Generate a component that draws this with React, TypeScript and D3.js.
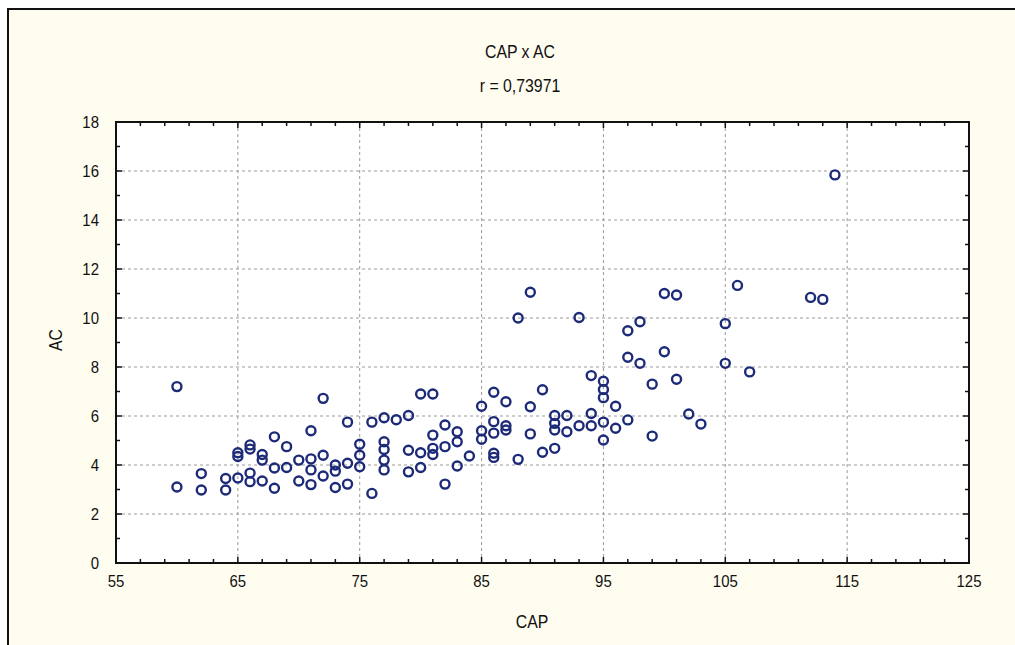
import React from "react";
import * as d3 from "d3";

const CAP: number[] = [
  60, 60, 62, 62, 64, 64, 65, 65, 65, 66, 66, 66, 66, 67, 67, 67, 68, 68, 68, 69, 69, 70, 70,
  71, 71, 71, 71, 72, 72, 72, 73, 73, 73, 74, 74, 74, 75, 75, 75, 76, 76,
  77, 77, 77, 77, 77, 78, 79, 79, 79, 80, 80, 80, 81, 81, 81, 81, 82, 82, 82,
  83, 83, 83, 84, 85, 85, 85, 86, 86, 86, 86, 86, 87, 87, 87, 88, 88, 89, 89, 89,
  90, 90, 91, 91, 91, 91, 92, 92, 93, 93, 94, 94, 94, 95, 95, 95, 95, 95, 96, 96,
  97, 97, 97, 98, 98, 99, 99, 100, 100, 101, 101, 102, 103, 105, 105, 106, 107, 112, 113, 114,
];
const AC: number[] = [
  7.2, 3.1, 3.65, 2.98, 3.45, 2.98, 4.5, 4.35, 3.47, 4.82, 4.65, 3.67, 3.32, 4.43, 4.2, 3.35, 5.15, 3.88, 3.05, 4.75, 3.9, 4.2, 3.35,
  5.4, 4.25, 3.8, 3.2, 6.72, 4.4, 3.55, 4.0, 3.75, 3.08, 5.75, 4.07, 3.22, 4.85, 4.4, 3.93, 5.75, 2.84,
  5.93, 4.95, 4.63, 4.2, 3.8, 5.85, 6.02, 4.6, 3.72, 6.9, 4.5, 3.9, 6.9, 5.22, 4.68, 4.43, 5.63, 4.75, 3.22,
  5.36, 4.95, 3.96, 4.37, 6.4, 5.4, 5.05, 6.97, 5.77, 5.3, 4.48, 4.31, 6.58, 5.6, 5.43, 10.0, 4.23, 11.05, 6.38, 5.27,
  7.07, 4.52, 6.02, 5.7, 5.43, 4.68, 6.02, 5.36, 10.02, 5.6, 7.65, 6.1, 5.6, 7.42, 7.08, 6.75, 5.75, 5.02, 6.4, 5.5,
  9.48, 8.4, 5.84, 9.85, 8.15, 7.3, 5.18, 11.0, 8.62, 10.94, 7.5, 6.08, 5.67, 9.77, 8.15, 11.33, 7.8, 10.84, 10.76, 15.84,
];
const xTicks: number[] = [55, 65, 75, 85, 95, 105, 115, 125];
const yTicks: number[] = [0, 2, 4, 6, 8, 10, 12, 14, 16, 18];
const title = "CAP x AC";
const subtitle = "r = 0,73971";
const xLabel = "CAP";
const yLabel = "AC";

const FONT = "'Liberation Sans', Arial, sans-serif";

function T(props: { x: number; y: number; size: number; anchor?: string; rotate?: number; children: React.ReactNode }) {
  const { x, y, size, anchor = "middle", rotate = 0, children } = props;
  return (
    <text
      transform={`translate(${x},${y}) rotate(${rotate}) scale(0.88,1)`}
      textAnchor={anchor as any}
      fontSize={size}
      fill="#111"
    >
      {children}
    </text>
  );
}

export default function App() {
  const W = 1015, H = 645;
  const L = 116, R = 969, TOP = 122, B = 563;
  const x = d3.scaleLinear().domain([55, 125]).range([L, R]);
  const y = d3.scaleLinear().domain([0, 18]).range([B, TOP]);
  const xMinor = d3.range(55, 125.01, 2).filter((v) => !xTicks.includes(v));
  const yMinor = d3.range(1, 18, 2);
  const pts = CAP.map((c, i) => ({ c, a: AC[i] }));
  const navy = "#1c2a78";
  return (
    <svg width={W} height={H} style={{ position: "absolute", left: 0, top: 0 }} fontFamily={FONT}>
      <rect x={0} y={0} width={W} height={H} fill="#ffffff" />
      <rect x={8} y={9} width={W} height={H} fill="#fffdf0" stroke="#111" strokeWidth={2} />
      <rect x={L} y={TOP} width={R - L} height={B - TOP} fill="#ffffff" />
      {xTicks.slice(1, -1).map((v) => (
        <line key={"gx" + v} x1={x(v)} x2={x(v)} y1={TOP} y2={B} stroke="#9a9a9a" strokeWidth={1} strokeDasharray="3,3" />
      ))}
      {yTicks.slice(1, -1).map((v) => (
        <line key={"gy" + v} x1={L} x2={R} y1={y(v)} y2={y(v)} stroke="#9a9a9a" strokeWidth={1} strokeDasharray="3,3" />
      ))}
      {xTicks.map((v) => (
        <g key={"xt" + v}>
          <line x1={x(v)} x2={x(v)} y1={B} y2={B - 6} stroke="#111" strokeWidth={1.5} />
          <line x1={x(v)} x2={x(v)} y1={TOP} y2={TOP + 6} stroke="#111" strokeWidth={1.5} />
        </g>
      ))}
      {xMinor.map((v) => (
        <g key={"xm" + v}>
          <line x1={x(v)} x2={x(v)} y1={B} y2={B - 4} stroke="#111" strokeWidth={1.5} />
          <line x1={x(v)} x2={x(v)} y1={TOP} y2={TOP + 4} stroke="#111" strokeWidth={1.5} />
        </g>
      ))}
      {yTicks.map((v) => (
        <g key={"yt" + v}>
          <line x1={L} x2={L + 6} y1={y(v)} y2={y(v)} stroke="#111" strokeWidth={1.5} />
          <line x1={R} x2={R - 6} y1={y(v)} y2={y(v)} stroke="#111" strokeWidth={1.5} />
        </g>
      ))}
      {yMinor.map((v) => (
        <g key={"ym" + v}>
          <line x1={L} x2={L + 4} y1={y(v)} y2={y(v)} stroke="#111" strokeWidth={1.5} />
          <line x1={R} x2={R - 4} y1={y(v)} y2={y(v)} stroke="#111" strokeWidth={1.5} />
        </g>
      ))}
      <rect x={L} y={TOP} width={R - L} height={B - TOP} fill="none" stroke="#111" strokeWidth={2} />
      {pts.map((p, i) => (
        <circle key={i} cx={x(p.c)} cy={y(p.a)} r={4.5} fill="none" stroke={navy} strokeWidth={2.4} />
      ))}
      {xTicks.map((v) => (
        <T key={"xl" + v} x={x(v)} y={587} size={17}>{v}</T>
      ))}
      {yTicks.map((v) => (
        <T key={"yl" + v} x={99} y={y(v) + 6} size={17} anchor="end">{v}</T>
      ))}
      <T x={520} y={58} size={18}>{title}</T>
      <T x={520} y={92} size={18}>{subtitle}</T>
      <T x={532} y={628} size={18}>{xLabel}</T>
      <T x={62} y={340} size={18} rotate={-90}>{yLabel}</T>
    </svg>
  );
}
